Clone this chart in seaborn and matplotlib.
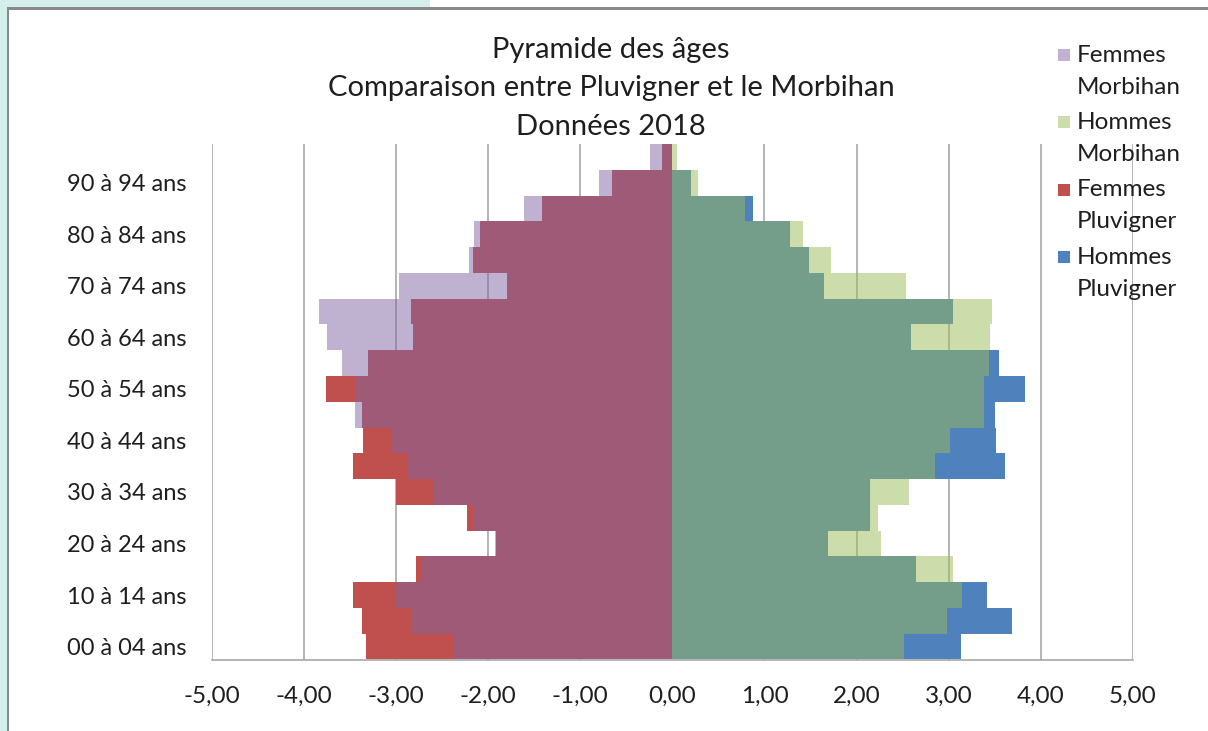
import matplotlib
matplotlib.use('Agg')
import matplotlib.pyplot as plt
import seaborn as sns
import pandas as pd
from matplotlib.patches import Rectangle
from matplotlib.ticker import FuncFormatter

ages = ["00 à 04 ans", "05 à 09 ans", "10 à 14 ans", "15 à 19 ans", "20 à 24 ans",
        "25 à 29 ans", "30 à 34 ans", "35 à 39 ans", "40 à 44 ans", "45 à 49 ans",
        "50 à 54 ans", "55 à 59 ans", "60 à 64 ans", "65 à 69 ans", "70 à 74 ans",
        "75 à 79 ans", "80 à 84 ans", "85 à 89 ans", "90 à 94 ans", "95 ans et plus"]

femmes_morbihan = [-2.37, -2.84, -3.00, -2.73, -1.93, -2.16, -2.59, -2.87, -3.04, -3.44,
                   -3.44, -3.59, -3.75, -3.83, -2.97, -2.21, -2.15, -1.61, -0.80, -0.24]
hommes_morbihan = [2.51, 2.98, 3.14, 3.05, 2.26, 2.23, 2.57, 2.85, 3.01, 3.38,
                   3.38, 3.44, 3.45, 3.47, 2.54, 1.72, 1.42, 0.79, 0.28, 0.05]
femmes_pluvigner = [-3.33, -3.37, -3.47, -2.78, -1.91, -2.23, -3.00, -3.47, -3.36, -3.37,
                    -3.76, -3.30, -2.81, -2.84, -1.80, -2.16, -2.09, -1.41, -0.65, -0.11]
hommes_pluvigner = [3.13, 3.69, 3.41, 2.64, 1.69, 2.14, 2.14, 3.61, 3.51, 3.50,
                    3.83, 3.55, 2.59, 3.05, 1.65, 1.48, 1.28, 0.88, 0.20, 0.00]

legend_labels = ["Femmes\nMorbihan", "Hommes\nMorbihan", "Femmes\nPluvigner", "Hommes\nPluvigner"]
legend_colors = ['#bfb1d0', '#cdddac', '#c0504d', '#4f81bd']

df = pd.DataFrame({
    "age": ages,
    "fm": femmes_morbihan,
    "hm": hommes_morbihan,
    "fp": femmes_pluvigner,
    "hp": hommes_pluvigner,
})

sns.set_theme(style="white")
plt.rcParams['font.family'] = ['Lato', 'DejaVu Sans']

W, H = 1208, 731
txt = '#1e1e1e'
fig = plt.figure(figsize=(W / 100, H / 100), dpi=100)
fig.patch.set_facecolor('white')

# screenshot frame
fig.add_artist(Rectangle((0, 0), 7 / W, 1, transform=fig.transFigure, color='#d4efec', lw=0))
fig.add_artist(Rectangle((0, 1 - 7 / H), 430 / W, 7 / H, transform=fig.transFigure, color='#d4efec', lw=0))
fig.add_artist(Rectangle((7 / W, 1 - 10 / H), 1, 3 / H, transform=fig.transFigure, color='#8a8a8a', lw=0))
fig.add_artist(Rectangle((7 / W, 0), 2 / W, 1 - 7 / H, transform=fig.transFigure, color='#8a8a8a', lw=0))

ax = fig.add_axes([211.7 / W, 1 - 659.5 / H, (1133 - 211.7) / W, (659.5 - 144) / H])

order = ages[::-1]

sns.barplot(data=df, x="fp", y="age", order=order, color='#c0504d', width=1, saturation=1, linewidth=0, ax=ax)
sns.barplot(data=df, x="hp", y="age", order=order, color='#4f81bd', width=1, saturation=1, linewidth=0, ax=ax)
sns.barplot(data=df, x="fm", y="age", order=order, color='#8064a2', alpha=0.5, width=1, saturation=1, linewidth=0, ax=ax)
sns.barplot(data=df, x="hm", y="age", order=order, color='#9bbb59', alpha=0.5, width=1, saturation=1, linewidth=0, ax=ax)

ax.set_xlim(-5, 5)
ax.set_ylim(19.5, -0.5)
ax.set_xticks(range(-5, 6))
ax.xaxis.set_major_formatter(FuncFormatter(lambda v, p: f"{v:.2f}".replace('.', ',')))
ax.set_yticks(range(len(order)))
ax.set_yticklabels([lab if (len(order) - 1 - i) % 2 == 0 else "" for i, lab in enumerate(order)])
ax.tick_params(axis='y', length=0, pad=18, labelsize=17, labelcolor=txt)
ax.tick_params(axis='x', length=0, pad=19, labelsize=17.5, labelcolor=txt)
ax.set_xlabel("")
ax.set_ylabel("")

for v in range(-5, 6):
    if v != 0:
        ax.axvline(v, color='#a0a0a0', lw=1.1, zorder=0.5)

for side in ['top', 'right', 'left']:
    ax.spines[side].set_visible(False)
ax.spines['bottom'].set_color('#a0a0a0')
ax.spines['bottom'].set_linewidth(1.1)

fig.text(611 / W, 1 - 50 / H, "Pyramide des âges", ha='center', va='center', fontsize=21, color=txt)
fig.text(611 / W, 1 - 88 / H, "Comparaison entre Pluvigner et le Morbihan", ha='center', va='center', fontsize=21, color=txt)
fig.text(611 / W, 1 - 127 / H, "Données 2018", ha='center', va='center', fontsize=21, color=txt)

# legend, marker next to the first line of each label
for i, (lab, col) in enumerate(zip(legend_labels, legend_colors)):
    y = 55 + 67.4 * i
    fig.add_artist(Rectangle((1058 / W, 1 - (y + 6) / H), 12 / W, 12 / H, transform=fig.transFigure, color=col, lw=0))
    for j, line in enumerate(lab.split("\n")):
        fig.text(1077 / W, 1 - (y + 32 * j) / H, line, ha='left', va='center', fontsize=17.5, color=txt)

plt.savefig('out.png', dpi=100)
